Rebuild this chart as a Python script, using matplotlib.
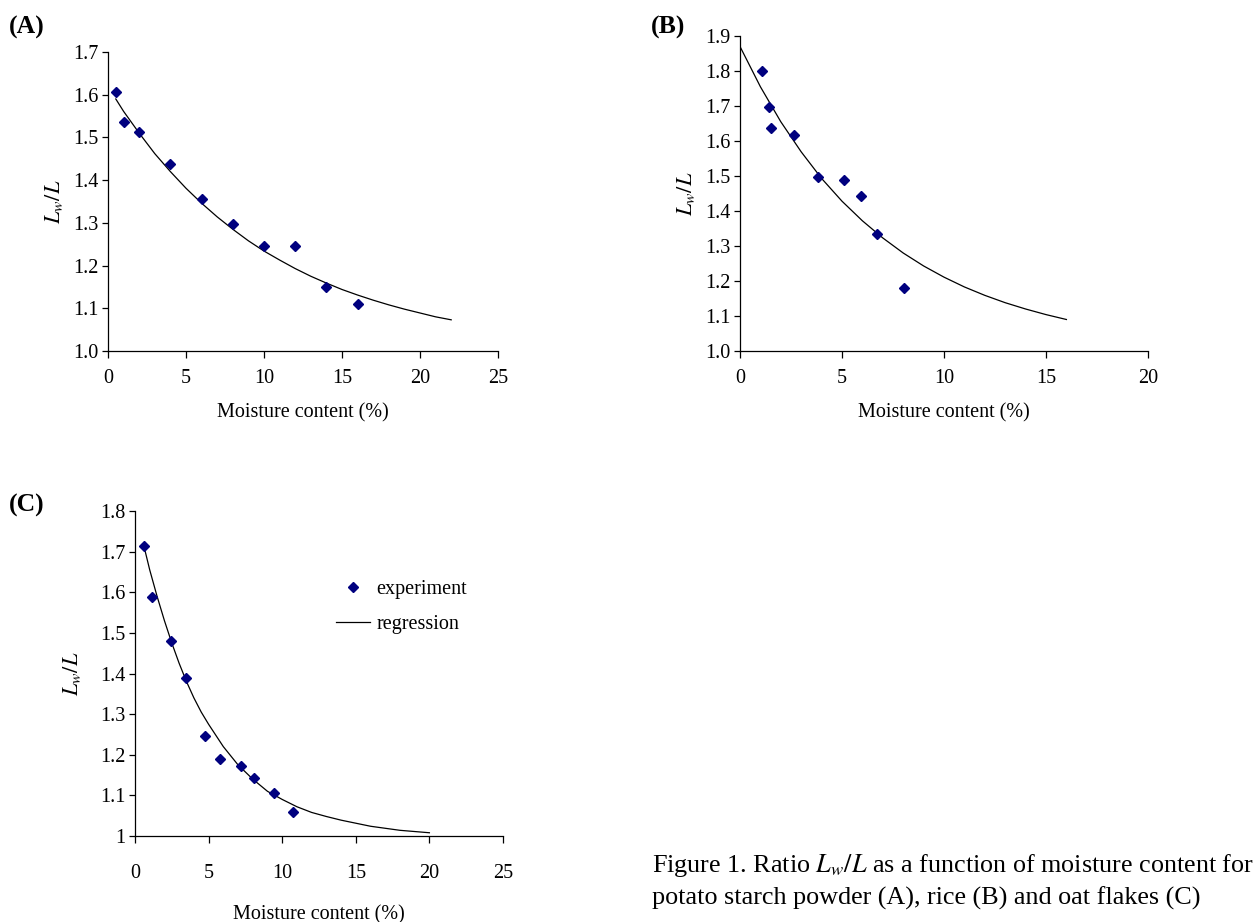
import matplotlib.pyplot as plt

plt.rcParams['font.family'] = ['Liberation Serif', 'DejaVu Serif']
plt.rcParams['mathtext.fontset'] = 'stix'

# (A) potato starch powder
a_x = [0.5, 1, 2, 4, 6, 8, 10, 12, 14, 16]
a_y = [1.606, 1.535, 1.513, 1.437, 1.355, 1.298, 1.245, 1.245, 1.150, 1.110]
a_fit_x = [0.5, 1, 2, 3, 4, 5, 6, 7, 8, 9, 10, 11, 12, 13, 14, 15, 16, 17, 18, 19, 20, 21, 22]
a_fit_y = [1.590, 1.561, 1.510, 1.462, 1.420, 1.381, 1.346, 1.314, 1.285, 1.258, 1.234, 1.213,
           1.193, 1.175, 1.159, 1.144, 1.131, 1.119, 1.108, 1.098, 1.089, 1.080, 1.073]

# (B) rice
b_x = [1.06, 1.41, 1.54, 2.63, 3.81, 5.12, 5.94, 6.74, 8.03]
b_y = [1.800, 1.697, 1.638, 1.618, 1.498, 1.489, 1.443, 1.333, 1.179]
b_fit_x = [0, 1, 2, 3, 4, 5, 6, 7, 8, 9, 10, 11, 12, 13, 14, 15, 16]
b_fit_y = [1.870, 1.755, 1.655, 1.569, 1.493, 1.428, 1.372, 1.323, 1.280, 1.243, 1.211,
           1.183, 1.159, 1.138, 1.120, 1.104, 1.090]

# (C) oat flakes
c_x = [0.63, 1.18, 2.47, 3.49, 4.76, 5.80, 7.21, 8.09, 9.43, 10.72]
c_y = [1.715, 1.589, 1.480, 1.390, 1.245, 1.190, 1.173, 1.143, 1.107, 1.060]
c_fit_x = [0.63, 1.0, 1.5, 2.0, 2.5, 3.0, 3.5, 4.0, 4.5, 5.0, 6.0, 7.0, 8.0, 9.0, 10.0,
           11.0, 12.0, 13.0, 14.0, 16.0, 18.0, 20.0]
c_fit_y = [1.710, 1.655, 1.590, 1.530, 1.475, 1.425, 1.380, 1.340, 1.305, 1.275, 1.220,
           1.175, 1.140, 1.110, 1.090, 1.072, 1.058, 1.048, 1.039, 1.024, 1.014, 1.008]

W, H = 1257, 922
fig = plt.figure(figsize=(W / 100, H / 100), dpi=100)
navy = '#00007f'
fs = 14.5


def make_axes(left, top, right, bottom):
    return fig.add_axes([left / W, 1 - bottom / H, (right - left) / W, (bottom - top) / H])


def style(ax, xlim, ylim, xticks, yticks, yfmt, xpad):
    ax.set_xlim(*xlim)
    ax.set_ylim(*ylim)
    ax.set_xticks(xticks)
    ax.set_yticks(yticks)
    ax.set_yticklabels([yfmt(v) for v in yticks])
    for s in ['top', 'right']:
        ax.spines[s].set_visible(False)
    for s in ['left', 'bottom']:
        ax.spines[s].set_linewidth(0.9)
    ax.tick_params(axis='x', direction='out', length=5, width=0.9, labelsize=fs, pad=xpad)
    ax.tick_params(axis='y', direction='out', length=4, width=0.9, labelsize=fs, pad=3)


def plot_panel(ax, x, y, fx, fy):
    ax.plot(fx, fy, color='black', lw=0.9, label='regression')
    ax.plot(x, y, ls='none', marker='D', ms=5.5, color=navy, label='experiment')


axA = make_axes(108, 52, 498, 351)
plot_panel(axA, a_x, a_y, a_fit_x, a_fit_y)
style(axA, (0, 25), (1.0, 1.7), [0, 5, 10, 15, 20, 25], [1.0, 1.1, 1.2, 1.3, 1.4, 1.5, 1.6, 1.7],
      lambda v: f'{v:.1f}', 8)
axA.set_xlabel('Moisture content (%)', fontsize=fs, labelpad=11)
axA.set_ylabel(r'$L_w/L$', fontsize=fs + 1.5, labelpad=6)

axB = make_axes(740, 36, 1148, 351)
plot_panel(axB, b_x, b_y, b_fit_x, b_fit_y)
style(axB, (0, 20), (1.0, 1.9), [0, 5, 10, 15, 20], [1.0, 1.1, 1.2, 1.3, 1.4, 1.5, 1.6, 1.7, 1.8, 1.9],
      lambda v: f'{v:.1f}', 8)
axB.set_xlabel('Moisture content (%)', fontsize=fs, labelpad=11)
axB.set_ylabel(r'$L_w/L$', fontsize=fs + 1.5, labelpad=6)

axC = make_axes(135, 511, 503, 836)
plot_panel(axC, c_x, c_y, c_fit_x, c_fit_y)
style(axC, (0, 25), (1.0, 1.8), [0, 5, 10, 15, 20, 25], [1.0, 1.1, 1.2, 1.3, 1.4, 1.5, 1.6, 1.7, 1.8],
      lambda v: '1' if v == 1.0 else f'{v:.1f}', 15)
axC.set_xlabel('Moisture content (%)', fontsize=fs, labelpad=16)
axC.set_ylabel(r'$L_w/L$', fontsize=fs + 1.5, labelpad=12)
handles, labels = axC.get_legend_handles_labels()
axC.legend(handles[::-1], labels[::-1], loc='upper left', bbox_to_anchor=(0.497, 0.843),
           frameon=False, fontsize=fs, handlelength=1.7, handletextpad=0.3, labelspacing=0.8)

for lbl, px, py in [('(A)', 9, 27), ('(B)', 651, 27), ('(C)', 9, 505)]:
    fig.text(px / W, 1 - py / H, lbl, fontsize=18.5, fontweight='bold', va='center', ha='left')

fig.text(652 / W, 1 - 881 / H,
         'Figure 1. Ratio $L_w/L$ as a function of moisture content for\n'
         'potato starch powder (A), rice (B) and oat flakes (C)',
         fontsize=18.8, va='center', ha='left', linespacing=1.45)

fig.savefig('out.png', dpi=100)
